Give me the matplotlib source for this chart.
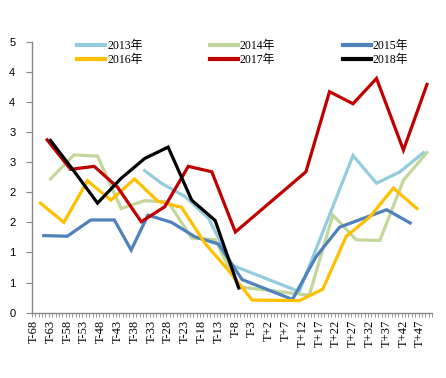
import numpy as np
import matplotlib
matplotlib.use("Agg")
import matplotlib.pyplot as plt

# data (x = trading day offset, y = value)
x2013 = [-35, -30, -23, -16, -9, 11, 27, 34, 41, 48]
y2013 = [2.36, 2.15, 1.93, 1.57, 0.79, 0.35, 2.61, 2.15, 2.34, 2.66]

x2014 = [-63, -56, -49, -42, -35, -28, -21, -14, -7, 14, 21, 28, 35, 42, 49]
y2014 = [2.22, 2.62, 2.60, 1.73, 1.86, 1.84, 1.24, 1.21, 0.43, 0.29, 1.62, 1.21, 1.20, 2.20, 2.66]

x2015 = [-65, -58, -51, -44, -39, -34, -27, -20, -13, -6, 9, 16, 23, 37, 44]
y2015 = [1.28, 1.27, 1.54, 1.54, 1.04, 1.62, 1.50, 1.26, 1.14, 0.55, 0.22, 0.93, 1.42, 1.71, 1.49]

x2016 = [-66, -59, -52, -45, -38, -31, -24, -17, -10, -3, 11, 18, 25, 32, 39, 46]
y2016 = [1.82, 1.50, 2.19, 1.87, 2.22, 1.85, 1.75, 1.15, 0.70, 0.21, 0.20, 0.39, 1.27, 1.59, 2.07, 1.73]

x2017 = [-64, -57, -50, -43, -36, -29, -22, -15, -8, 13, 20, 27, 34, 42, 49]
y2017 = [2.87, 2.38, 2.43, 2.08, 1.51, 1.76, 2.43, 2.34, 1.34, 2.34, 3.67, 3.47, 3.89, 2.70, 3.79]

x2018 = [-63, -56, -49, -42, -35, -28, -21, -14, -7]
y2018 = [2.86, 2.35, 1.82, 2.23, 2.56, 2.75, 1.87, 1.53, 0.41]

labels = ["2013年", "2014年", "2015年", "2016年", "2017年", "2018年"]
colors = ["#93CDDD", "#C3D69B", "#4F81BD", "#FFC000", "#C00000", "#000000"]

tick_pos = list(range(-68, 48, 5))
tick_lab = ["T%+d" % t for t in tick_pos]

fig = plt.figure(figsize=(4.46, 3.78), dpi=100)
ax = fig.add_axes([32 / 446, 1 - 312.7 / 378, 400 / 446, 271 / 378])

series = [(x2013, y2013), (x2014, y2014), (x2015, y2015),
          (x2016, y2016), (x2017, y2017), (x2018, y2018)]
lines = []
for (xs, ys), c, lab in zip(series, colors, labels):
    ln, = ax.plot(xs, ys, color=c, lw=2.3, label=lab, solid_joinstyle="miter")
    lines.append(ln)

ax.set_xlim(-68.5, 50.5)
ax.set_ylim(0, 4.5)

for s in ["top", "right"]:
    ax.spines[s].set_visible(False)
for s in ["left", "bottom"]:
    ax.spines[s].set_color("#868686")
    ax.spines[s].set_linewidth(1.0)

yt = np.arange(0, 4.6, 0.5)
ax.set_yticks(yt)
ax.set_yticklabels([str(int(np.floor(v + 0.5))) for v in yt],
                   fontfamily="Liberation Sans", fontsize=8)
ax.tick_params(axis="y", length=4, color="#868686", pad=8)

ax.set_xticks(tick_pos)
ax.set_xticklabels(tick_lab, rotation=90, fontfamily="Liberation Serif", fontsize=9)
ax.set_xticks(np.arange(-68.5, 51, 1), minor=True)
ax.tick_params(axis="x", which="major", length=0, pad=5)
ax.tick_params(axis="x", which="minor", length=3, color="#868686")

# legend is filled column by column, so reorder to read row by row
order = [0, 3, 1, 4, 2, 5]
leg = ax.legend([lines[i] for i in order], [labels[i] for i in order],
                ncol=3, loc="upper left", bbox_to_anchor=(77 / 446, 1 - 40 / 378),
                bbox_transform=fig.transFigure, frameon=False,
                prop={"family": ["Liberation Serif", "Noto Sans CJK SC"], "size": 8.5},
                handlelength=2.4, handletextpad=0.15, columnspacing=5.7,
                labelspacing=0.15, borderpad=0, borderaxespad=0)
for h in leg.get_lines():
    h.set_linewidth(3)

fig.savefig("out.png", dpi=100)
